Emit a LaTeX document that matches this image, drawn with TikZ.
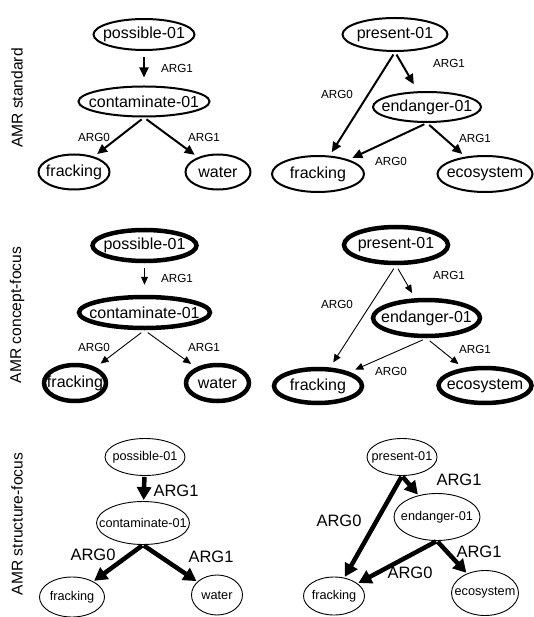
\documentclass[tikz,border=0pt]{standalone}
\usepackage{fontspec}
\setmainfont{Liberation Sans}
\usetikzlibrary{arrows.meta,shapes.geometric}

\tikzset{
  amr/.style={ellipse,draw,inner sep=0pt,
    execute at begin node={\hbox to 0pt\bgroup\hss},
    execute at end node={\hss\egroup}},
  stdnode/.style={amr,line width=2,font=\fontsize{16}{19}\selectfont},
  cfnode/.style={amr,line width=4.5,font=\fontsize{16}{19}\selectfont},
  sfnode/.style={amr,line width=0.9,font=\fontsize{12.7}{15}\selectfont},
  stdedge/.style={line width=2,-{Triangle[length=10,width=9]},shorten >=4,shorten <=3},
  cfedge/.style={line width=0.9,-{Triangle[length=8,width=7]},shorten >=6,shorten <=4},
  sfedge/.style={line width=4.5,-{Triangle[length=13,width=14]},shorten >=1,shorten <=1},
  arglbl/.style={font=\fontsize{11.7}{13}\selectfont},
  sflbl/.style={font=\fontsize{16.5}{18}\selectfont},
  rowlbl/.style={rotate=90,font=\fontsize{15.6}{18}\selectfont}
}

\begin{document}
\begin{tikzpicture}[x=1pt,y=-1pt]
\useasboundingbox (0,0) rectangle (534,617);
% row titles
\node[rowlbl] (t1) at (17,98) {AMR standard};
\node[rowlbl] (t2) at (17,315) {AMR concept-focus};
\node[rowlbl] (t3) at (17,524) {AMR structure-focus};

% standard
\node[stdnode,minimum width=101,minimum height=31] (p1) at (144,34.5) {possible-01};
\node[stdnode,minimum width=131,minimum height=30] (c1) at (144,101.5) {contaminate-01};
\node[stdnode,minimum width=71,minimum height=35] (f1) at (74,172) {fracking};
\node[stdnode,minimum width=65,minimum height=35] (w1) at (218,172) {water};
\draw[stdedge,shorten <=6,shorten >=8] (p1) -- (c1);
\draw[stdedge] (c1.south) -- (f1);
\draw[stdedge] (c1.south) -- (w1);
\node[arglbl] (l1) at (177,68) {ARG1};
\node[arglbl] (l2) at (94,137) {ARG0};
\node[arglbl] (l3) at (204,137) {ARG1};

\node[stdnode,minimum width=105,minimum height=33] (pr1) at (395,34.5) {present-01};
\node[stdnode,minimum width=108,minimum height=30] (e1) at (427,107) {endanger-01};
\node[stdnode,minimum width=92,minimum height=36] (fr1) at (318,174) {fracking};
\node[stdnode,minimum width=95,minimum height=36] (ec1) at (485,174) {ecosystem};
\draw[stdedge] (pr1.south) -- (fr1);
\draw[stdedge,shorten >=8] (pr1.south) -- (e1);
\draw[stdedge] (e1.south) -- (fr1);
\draw[stdedge] (e1.south) -- (ec1);
\node[arglbl] (l4) at (449,63) {ARG1};
\node[arglbl] (l5) at (337,94) {ARG0};
\node[arglbl] (l6) at (475,138) {ARG1};
\node[arglbl] (l7) at (391,161) {ARG0};

% concept-focus
\node[cfnode,minimum width=104,minimum height=31] (p2) at (144.5,245.5) {possible-01};
\node[cfnode,minimum width=131,minimum height=31] (c2) at (144.5,312.5) {contaminate-01};
\node[cfnode,minimum width=62,minimum height=36] (f2) at (75,383) {fracking};
\node[cfnode,minimum width=63,minimum height=36] (w2) at (217.5,383) {water};
\draw[cfedge,shorten <=5,shorten >=10] (p2) -- (c2);
\draw[cfedge] (c2.south) -- (f2);
\draw[cfedge] (c2.south) -- (w2);
\node[arglbl] (l8) at (177,278) {ARG1};
\node[arglbl] (l9) at (94,347) {ARG0};
\node[arglbl] (l10) at (204,347) {ARG1};

\node[cfnode,minimum width=104,minimum height=36] (pr2) at (396,245) {present-01};
\node[cfnode,minimum width=107,minimum height=36] (e2) at (426.5,318) {endanger-01};
\node[cfnode,minimum width=88,minimum height=34] (fr2) at (318,386) {fracking};
\node[cfnode,minimum width=93,minimum height=35] (ec2) at (485,385.5) {ecosystem};
\draw[cfedge] (pr2.south) -- (fr2);
\draw[cfedge] (pr2.south) -- (e2);
\draw[cfedge] (e2.south) -- (fr2);
\draw[cfedge] (e2.south) -- (ec2);
\node[arglbl] (l11) at (449,275) {ARG1};
\node[arglbl] (l12) at (337,304) {ARG0};
\node[arglbl] (l13) at (475,349) {ARG1};
\node[arglbl] (l14) at (391,371) {ARG0};

% structure-focus
\node[sfnode,minimum width=80,minimum height=37] (p3) at (145,457) {possible-01};
\node[sfnode,minimum width=93,minimum height=43] (c3) at (143,523) {contaminate-01};
\node[sfnode,minimum width=65,minimum height=40] (f3) at (72,597) {fracking};
\node[sfnode,minimum width=51,minimum height=40] (w3) at (217,595) {water};
\draw[sfedge] (p3) -- (c3);
\draw[sfedge] (c3.south) -- (f3);
\draw[sfedge] (c3.south) -- (w3);
\node[sflbl] (l15) at (176,491) {ARG1};
\node[sflbl] (l16) at (93,555) {ARG0};
\node[sflbl] (l17) at (211,557) {ARG1};

\node[sfnode,minimum width=70,minimum height=37] (pr3) at (402,457) {present-01};
\node[sfnode,minimum width=86,minimum height=47] (e3) at (437,517) {endanger-01};
\node[sfnode,minimum width=61,minimum height=38] (fr3) at (334,596) {fracking};
\node[sfnode,minimum width=67,minimum height=45] (ec3) at (485,593) {ecosystem};
\draw[sfedge] (pr3.south) -- (fr3);
\draw[sfedge] (pr3.south) -- (e3);
\draw[sfedge] (e3.south) -- (fr3);
\draw[sfedge] (e3.south) -- (ec3);
\node[sflbl] (l18) at (459,480) {ARG1};
\node[sflbl] (l19) at (339,521) {ARG0};
\node[sflbl] (l20) at (479,552) {ARG1};
\node[sflbl] (l21) at (410,573) {ARG0};
\end{tikzpicture}
\end{document}
